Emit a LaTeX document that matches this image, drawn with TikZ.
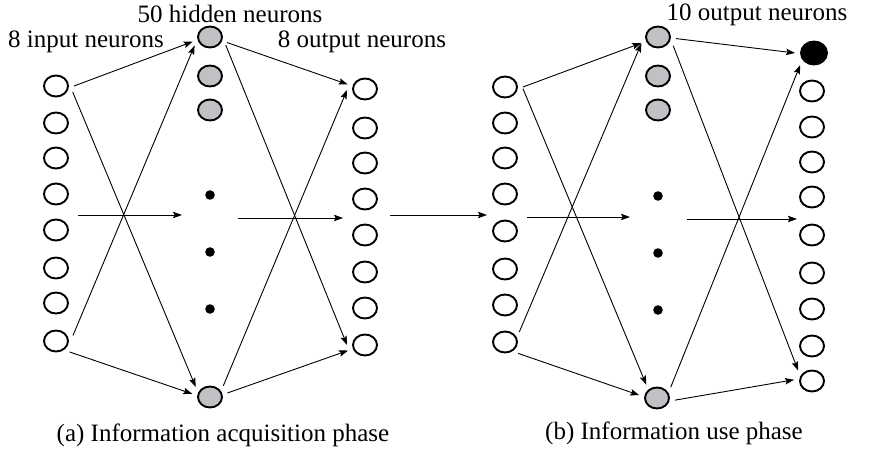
\documentclass[tikz,border=0pt]{standalone}
\usepackage{fontspec}
\setmainfont{Liberation Serif}
\usetikzlibrary{shapes.geometric,arrows.meta}
\definecolor{hidgray}{RGB}{192,193,197}
\tikzset{
  neuron/.style={ellipse, draw, line width=0.95pt, minimum width=12pt, minimum height=10.5pt, inner sep=0pt, outer sep=3pt},
  hidden/.style={neuron, fill=hidgray},
  winner/.style={neuron, fill=black, minimum width=13pt, minimum height=11.5pt},
  dotnode/.style={circle, fill=black, minimum size=4.8pt, inner sep=0pt},
  arr/.style={-{Stealth[length=4.5pt,width=3.2pt,inset=0.8pt]}, line width=0.45pt},
}
\begin{document}
\begin{tikzpicture}[x=0.5pt,y=-0.5pt]
\tikzstyle{every node}=[font=\fontsize{12.5}{15}\selectfont]
\useasboundingbox (0,0) rectangle (878,454);

% Draw input neurons
\foreach \y [count=\i] in {86,123,158,194,230,268,303,341} {
    \node[neuron] (inA\i) at (56,\y) {};
}
\foreach \y [count=\i] in {87,123,158,194,231,269,305,342} {
    \node[neuron] (inB\i) at (505,\y) {};
}

% Draw hidden neurons
\foreach \y [count=\i] in {37,76,110} {
    \node[hidden] (hidA\i) at (210,\y) {};
    \node[hidden] (hidB\i) at (658,\y) {};
}
\node[hidden] (hidA50) at (210,397) {};
\node[hidden] (hidB50) at (657,398) {};
\foreach \y [count=\i] in {195,252,309} {
    \node[dotnode] (dotA\i) at (210,\y) {};
    \node[dotnode] (dotB\i) at (658,\y+1) {};
}

% Draw output neurons
\foreach \y [count=\i] in {89,128,163,199,235,272,308,345} {
    \node[neuron] (outA\i) at (365,\y) {};
}
\node[winner] (outB1) at (814,53) {};
\foreach \y [count=\i from 2] in {91,127,162,197,235,273,309,346,381} {
    \node[neuron] (outB\i) at (812,\y) {};
}

% Draw connections (a)
\draw[arr] (inA1.0) -- (hidA1.195);
\draw[arr] (inA1.-20) -- (hidA50.145);
\draw[arr] (inA8.18) -- (hidA1.209);
\draw[arr] (inA8.-39) -- (hidA50.170);
\draw[arr] (hidA1.-18) -- (outA1.165);
\draw[arr] (hidA1.-27) -- (outA8.180);
\draw[arr] (hidA50.40) -- (outA1.183);
\draw[arr] (hidA50.13) -- (outA8.198);

% Draw connections (b)
\draw[arr] (inB1.0) -- (hidB1.200);
\draw[arr] (inB1.-5) -- (hidB50.129);
\draw[arr] (inB8.35) -- (hidB1.201);
\draw[arr] (inB8.-41) -- (hidB50.171);
\draw[arr] (hidB1.-5) -- (outB1.180);
\draw[arr] (hidB1.-30) -- (outB10.143);
\draw[arr] (hidB50.38) -- (outB1.221);
\draw[arr] (hidB50.-7) -- (outB10.176);

% Draw horizontal arrows
\coordinate (flowA1) at (78,215);
\coordinate (flowA2) at (182,215);
\coordinate (flowA3) at (238,218);
\coordinate (flowA4) at (343,218);
\coordinate (flowM1) at (390,215);
\coordinate (flowM2) at (487,215);
\coordinate (flowB1) at (527,217);
\coordinate (flowB2) at (630,217);
\coordinate (flowB3) at (687,219);
\coordinate (flowB4) at (797,219);
\draw[arr] (flowA1) -- (flowA2);
\draw[arr] (flowA3) -- (flowA4);
\draw[arr] (flowM1) -- (flowM2);
\draw[arr] (flowB1) -- (flowB2);
\draw[arr] (flowB3) -- (flowB4);

% Add labels
\node (lblhid) at (230,14) {50 hidden neurons};
\node (lblin) at (86,42) {8 input neurons};
\node (lbloutA) at (362,42) {8 output neurons};
\node (lbloutB) at (757,15) {10 output neurons};
\node (capA) at (223,435) {(a) Information acquisition phase};
\node (capB) at (674,433) {(b) Information use phase};

\end{tikzpicture}
\end{document}
